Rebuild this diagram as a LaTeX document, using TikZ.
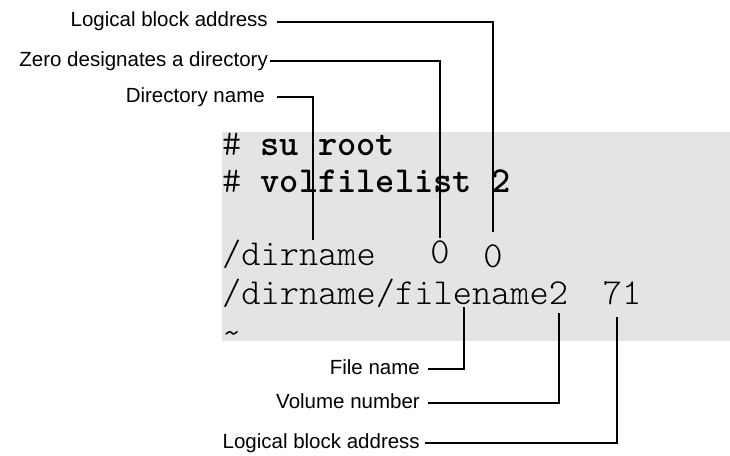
\documentclass[tikz,border=0pt]{standalone}
\usepackage{fontspec}
\setmainfont{Liberation Sans}
\definecolor{termgray}{HTML}{E4E4E4}
\begin{document}
\begin{tikzpicture}[x=1pt,y=-1pt,
  mono/.style={font=\ttfamily\fontseries{l}\fontsize{36.6}{36.6}\selectfont, anchor=base west, inner sep=0pt},
  monoc/.style={mono, anchor=base},
  lab/.style={font=\fontsize{20.5}{22}\selectfont, anchor=base east, inner sep=0pt},
  lead/.style={line width=2pt}]
\useasboundingbox (0,0) rectangle (730,455);
\fill[termgray] (222,132) rectangle (730,341);
% terminal text
\node[mono] (l1) at (222,155) {\# \textbf{su root}};
\node[mono] (l2) at (222,192) {\# \textbf{volfilelist 2}};
\node[mono] (l3) at (222,265) {/dirname};
\node[monoc] (z1) at (440,263) {0};
\node[monoc] (z2) at (493,267) {0};
\node[mono] (l4) at (222,304) {/dirname/filename2};
\node[monoc] (n71) at (622,304) {71};
\node[mono] (l5) at (222,344) {\textasciitilde};
% labels
\node[lab] (lbaT) at (268,27) {Logical block address};
\node[lab] (zero) at (268,66) {Zero designates a directory};
\node[lab] (dir) at (265,102) {Directory name};
\node[lab] (fname) at (420,374) {File name};
\node[lab] (vol) at (420,408) {Volume number};
\node[lab] (lbaB) at (420,448) {Logical block address};
% leader ends
\coordinate (lbaTe) at (493,232);
\coordinate (zeroe) at (440,238);
\coordinate (dire) at (313,240);
\coordinate (fnamee) at (464,307);
\coordinate (vole) at (559,313);
\coordinate (lbaBe) at (617,317);
% leaders
\draw[lead] ([shift={(9,-5)}]lbaT.base east) -| (lbaTe);
\draw[lead] ([shift={(2,-5)}]zero.base east) -| (zeroe);
\draw[lead] ([shift={(12,-5)}]dir.base east) -| (dire);
\draw[lead] ([shift={(8,-5)}]fname.base east) -| (fnamee);
\draw[lead] ([shift={(8,-5)}]vol.base east) -| (vole);
\draw[lead] ([shift={(5,-5)}]lbaB.base east) -| (lbaBe);
\end{tikzpicture}
\end{document}
